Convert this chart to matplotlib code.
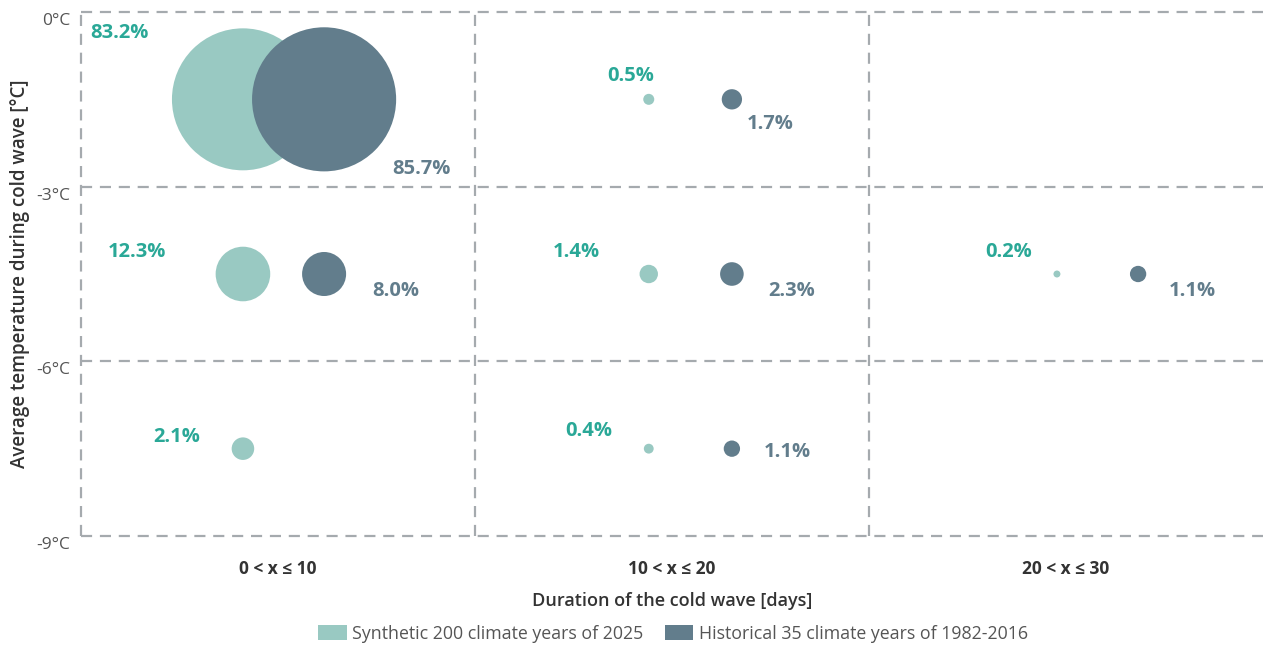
import matplotlib
matplotlib.use("Agg")
import matplotlib.pyplot as plt
import matplotlib.transforms as mtransforms
from matplotlib.patches import Patch

# ---- data ----
categories = ["0 < x ≤ 10", "10 < x ≤ 20", "20 < x ≤ 30"]
y_ticks = [0, -3, -6, -9]
y_ticklabels = ["0°C", "-3°C", "-6°C", "-9°C"]

syn_x = [4.11, 14.41, 24.77, 4.11, 14.41, 4.11, 14.41]
syn_y = [-1.5, -1.5, -4.5, -4.5, -4.5, -7.5, -7.5]
syn_val = [83.2, 0.5, 0.2, 12.3, 1.4, 2.1, 0.4]
syn_lbl_off = [(-123, 66), (-18, 23), (-48, 22), (-106, 22), (-72, 22), (-66, 12), (-60, 18)]

his_x = [6.17, 16.52, 26.83, 6.17, 16.52, 16.52]
his_y = [-1.5, -1.5, -4.5, -4.5, -4.5, -7.5]
his_val = [85.7, 1.7, 1.1, 8.0, 2.3, 1.1]
his_lbl_off = [(97, -70), (38, -25), (54, -17), (72, -17), (60, -17), (55, -3)]

legend_labels = ["Synthetic 200 climate years of 2025", "Historical 35 climate years of 1982-2016"]

syn_color = "#99C9C2"
his_color = "#627D8C"
syn_text = "#2AA897"
his_text = "#627D8C"
grid_color = "#A5AAAE"

plt.rcParams['font.family'] = ['Open Sans', 'DejaVu Sans']

W, H = 1264, 648
fig = plt.figure(figsize=(W / 100, H / 100), dpi=100)
ax = fig.add_axes([81 / W, 1 - 536 / H, (1263 - 81) / W, (536 - 12) / H])
ax.set_xlim(0, 30)
ax.set_ylim(-9, 0)

for s in ax.spines.values():
    s.set_visible(False)

for xv in [0, 10, 20]:
    ax.axvline(xv, color=grid_color, lw=1.6, ls=(0, (5, 3.5)), clip_on=False, zorder=0)
for yv in y_ticks:
    ax.axhline(yv, color=grid_color, lw=1.6, ls=(0, (5, 3.5)), clip_on=False, zorder=0)

# bubble scale: area proportional to value
k = 125.6
ax.scatter(syn_x, syn_y, s=[k * v for v in syn_val], color=syn_color, edgecolors='none', zorder=2, clip_on=False)
ax.scatter(his_x, his_y, s=[k * v for v in his_val], color=his_color, edgecolors='none', zorder=3, clip_on=False)

for x, y, v, (dx, dy) in zip(syn_x, syn_y, syn_val, syn_lbl_off):
    ax.annotate(f"{v:.1f}%", (x, y), xytext=(dx * 0.72, dy * 0.72), textcoords='offset points',
                ha='center', va='center', fontsize=14.5, fontweight='bold', color=syn_text, zorder=4)
for x, y, v, (dx, dy) in zip(his_x, his_y, his_val, his_lbl_off):
    ax.annotate(f"{v:.1f}%", (x, y), xytext=(dx * 0.72, dy * 0.72), textcoords='offset points',
                ha='center', va='center', fontsize=14.5, fontweight='bold', color=his_text, zorder=4)

ax.set_xticks([5, 15, 25])
ax.set_xticklabels(categories, fontsize=12.5, fontweight='bold', color='#333333')
ax.set_yticks(y_ticks)
ax.set_yticklabels(y_ticklabels, fontsize=12.5, color='#555555')
ax.tick_params(axis='both', length=0)
ax.tick_params(axis='x', pad=17)
ax.tick_params(axis='y', pad=8)
off = mtransforms.ScaledTranslation(0, -7 / 100, fig.dpi_scale_trans)
for lbl in ax.get_yticklabels():
    lbl.set_transform(lbl.get_transform() + off)

ax.set_xlabel("Duration of the cold wave [days]", fontsize=13, fontweight='semibold', color='#333333', labelpad=10)
ax.set_ylabel("Average temperature during cold wave [°C]", fontsize=13.5, fontweight='semibold', color='#333333', labelpad=4)

handles = [Patch(facecolor=syn_color, edgecolor='none'), Patch(facecolor=his_color, edgecolor='none')]
fig.legend(handles, legend_labels, loc='center', bbox_to_anchor=(673 / W, 1 - 634 / H), ncol=2,
           frameon=False, fontsize=12.8, labelcolor='#555555', handlelength=1.6, handleheight=0.9,
           handletextpad=0.3, columnspacing=1.2)

fig.savefig("out.png", dpi=100)
